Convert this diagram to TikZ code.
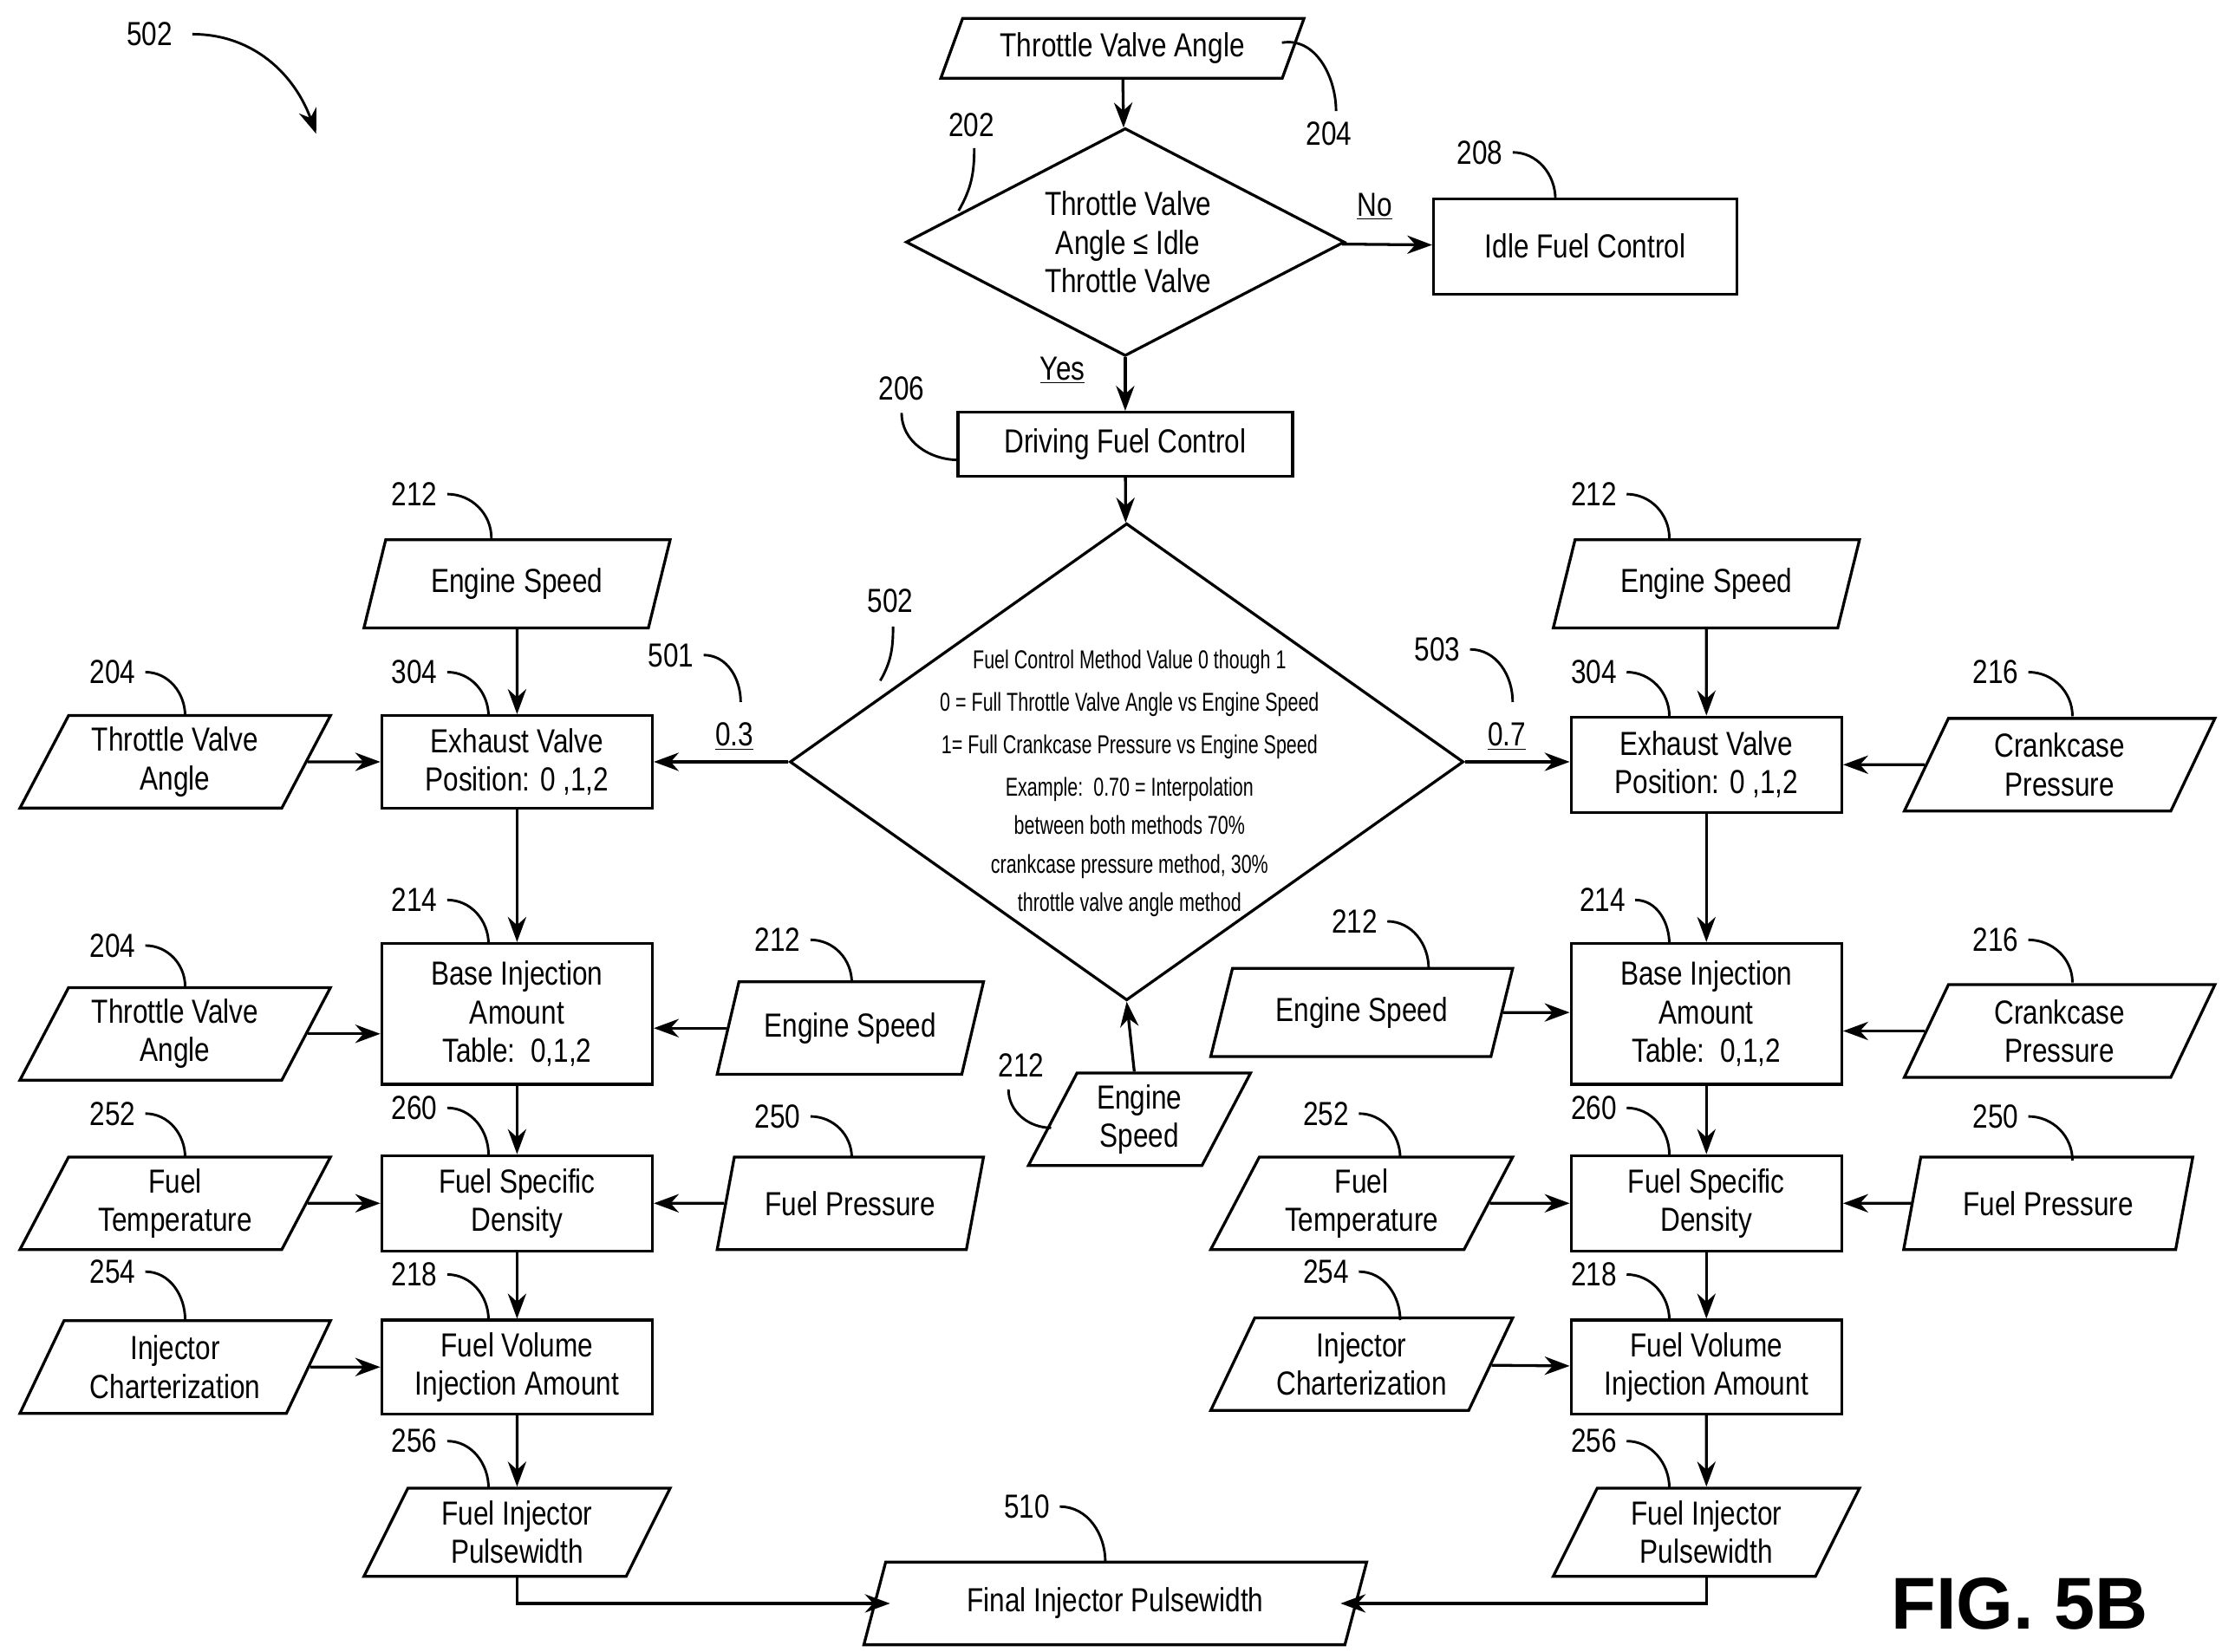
\documentclass[tikz,border=0pt]{standalone}
\usepackage{fontspec}
\setmainfont{Liberation Sans}[FakeStretch=0.82]
\usetikzlibrary{shapes.geometric,arrows.meta}
\begin{document}
\begin{tikzpicture}[x=0.03cm,y=-0.03cm,line width=1.7pt,
  every node/.style={font=\fontsize{20}{23}\selectfont,align=center},
  box/.style={draw,rectangle,inner sep=0pt},
  para/.style={draw,trapezium,trapezium left angle=55,trapezium right angle=125,trapezium stretches body,inner sep=0pt},
  arr/.style={-{Stealth[length=15pt,width=11pt]}},
  lead/.style={line width=1.5pt}]
\useasboundingbox (0,0) rectangle (1560,1160);
\newcommand{\lb}[5]{\node[anchor=east] (#5) at (#1+22,#2) {#4}; \draw[lead] (#1+24,#2) to[out=0,in=90] #3;}
% top
\node[para,minimum width=255*0.03cm,minimum height=42*0.03cm] (tva) at (788,34) {Throttle Valve Angle};
\node[draw,diamond,minimum width=308*0.03cm,minimum height=160*0.03cm,inner sep=0pt] (d1) at (790,170) {};
\node (d1t) at (792,170) {Throttle Valve\\Angle ≤ Idle\\Throttle Valve};
\node[box,minimum width=213*0.03cm,minimum height=67*0.03cm] (idle) at (1113,173) {Idle Fuel Control};
\node[box,minimum width=235*0.03cm,minimum height=45*0.03cm] (drv) at (790,312) {Driving Fuel Control};
\node[draw,diamond,minimum width=473*0.03cm,minimum height=335*0.03cm,inner sep=0pt] (d2) at (791,535) {};
\node[font=\fontsize{15.5}{15}\selectfont\addfontfeature{FakeStretch=0.72}, align=center] (d2t) at (793,550) {Fuel Control Method Value 0 though 1\\[10.5pt]0 = Full Throttle Valve Angle vs Engine Speed\\[10.5pt]1= Full Crankcase Pressure vs Engine Speed\\[10.5pt]Example:\ \ 0.70 = Interpolation\\[8pt]between both methods 70\%\\[8pt]crankcase pressure method, 30\%\\[8pt]throttle valve angle method};
\draw[arr] (tva) -- (d1);
\draw[arr] (d1) -- (idle);
\node (no) at (965,145) {\underline{No}};
\draw[arr] (d1) -- (drv);
\node (yes) at (746,260) {\underline{Yes}};
\draw[arr] (drv) -- (d2);
\tikzset{pw/.style={para,minimum width=215*0.03cm,minimum height=62*0.03cm},
 pl/.style={para,minimum width=218*0.03cm,minimum height=65*0.03cm},
 pm/.style={para,minimum width=187*0.03cm,minimum height=65*0.03cm},
 bx/.style={box,minimum width=190*0.03cm,minimum height=#1*0.03cm}}
% left column
\node[pw] (es1) at (363,410) {Engine Speed};
\node[pl] (tva1) at (123,535) {Throttle Valve\\Angle};
\node[bx=65] (evp1) at (363,535) {Exhaust Valve\\Position: 0 ,1,2};
\node[bx=99] (bia1) at (363,712) {Base Injection\\Amount\\Table:\ \ 0,1,2};
\node[pl] (tva2) at (123,726) {Throttle Valve\\Angle};
\node[pm] (es2) at (597,722) {Engine Speed};
\node[bx=67] (fsd1) at (363,845) {Fuel Specific\\Density};
\node[pl] (ft1) at (123,845) {Fuel\\Temperature};
\node[pm] (fp1) at (597,845) {Fuel Pressure};
\node[para,minimum width=156*0.03cm,minimum height=65*0.03cm] (es3) at (800,786) {Engine\\Speed};
\node[bx=66] (fvi1) at (363,960) {Fuel Volume\\Injection Amount};
\node[pl] (ic1) at (123,960) {Injector\\Charterization};
\node[pw] (fip1) at (363,1076) {Fuel Injector\\Pulsewidth};
\node[para,minimum width=353*0.03cm,minimum height=58*0.03cm] (fin) at (783,1126) {Final Injector Pulsewidth};
% right column
\node[pw] (es4) at (1198,410) {Engine Speed};
\node[bx=67] (evp2) at (1198,537) {Exhaust Valve\\Position: 0 ,1,2};
\node[pl] (cp1) at (1446,537) {Crankcase\\Pressure};
\node[bx=99] (bia2) at (1198,712) {Base Injection\\Amount\\Table:\ \ 0,1,2};
\node[pm,minimum width=212*0.03cm,minimum height=62*0.03cm] (es5) at (956,711) {Engine Speed};
\node[pl] (cp2) at (1446,724) {Crankcase\\Pressure};
\node[bx=67] (fsd2) at (1198,845) {Fuel Specific\\Density};
\node[pl,minimum width=212*0.03cm] (ft2) at (956,845) {Fuel\\Temperature};
\node[pl,minimum width=203*0.03cm] (fp2) at (1438,845) {Fuel Pressure};
\node[bx=66] (fvi2) at (1198,960) {Fuel Volume\\Injection Amount};
\node[pl,minimum width=212*0.03cm] (ic2) at (956,958) {Injector\\Charterization};
\node[pw] (fip2) at (1198,1076) {Fuel Injector\\Pulsewidth};
\node[font=\fontsize{44}{44}\selectfont\bfseries\addfontfeature{FakeStretch=1}] (fig) at (1418,1126) {FIG. 5B};
% connectors left
\draw[arr] (es1) -- (evp1);
\draw[arr] (tva1) -- (evp1);
\draw[arr] (d2.west) -- (evp1.east) node[pos=0.4,above,yshift=3pt] (l03) {\underline{0.3}};
\draw[arr] (evp1) -- (bia1);
\draw[arr] (tva2.east) -- (tva2.east -| bia1.west);
\draw[arr] (es2.west) -- (es2.west -| bia1.east);
\draw[arr] (bia1) -- (fsd1);
\draw[arr] (ft1) -- (fsd1);
\draw[arr] (fp1) -- (fsd1);
\draw[arr] (es3) -- (d2.south);
\draw[arr] (fsd1) -- (fvi1);
\draw[arr] (ic1) -- (fvi1);
\draw[arr] (fvi1) -- (fip1);
\draw[arr] (fip1.south) |- ([xshift=10pt]fin.west);
% connectors right
\draw[arr] (es4) -- (evp2);
\draw[arr] (cp1) -- (evp2);
\draw[arr] (d2.east) -- (d2.east -| evp2.west) node[pos=0.4,above,yshift=3pt] (l07) {\underline{0.7}};
\draw[arr] (evp2) -- (bia2);
\draw[arr] (es5) -- (es5 -| bia2.west);
\draw[arr] (cp2.west) -- (cp2.west -| bia2.east);
\draw[arr] (bia2) -- (fsd2);
\draw[arr] (ft2) -- (fsd2);
\draw[arr] (fp2) -- (fsd2);
\draw[arr] (fsd2) -- (fvi2);
\draw[arr] (ic2) -- (fvi2);
\draw[arr] (fvi2) -- (fip2);
\draw[arr] (fip2.south) |- ([xshift=-10pt]fin.east);
% reference labels
\node (n502) at (105,24) {502};
\draw[lead,arr] (135,24) to[out=0,in=110] (222,94);
\node (n204t) at (933,94) {204};
\draw[lead] (900,30) to[out=10,in=90] (938,78);
\node (n202) at (682,88) {202};
\draw[lead] (684,104) to[out=-90,in=60] (673,148);
\lb{1038}{107}{(1092,140)}{208}{n208}
\node (n206) at (633,273) {206};
\draw[lead] (633,290) to[out=-90,in=180] (673,323);
\lb{290}{347}{(345,378)}{212}{a1}
\lb{78}{472}{(130,503)}{204}{a2}
\lb{290}{472}{(343,503)}{304}{a3}
\node (n502b) at (625,422) {502};
\draw[lead] (627,440) to[out=-90,in=60] (618,478);
\lb{470}{460}{(520,493)}{501}{a4}
\lb{290}{632}{(343,663)}{214}{a5}
\lb{78}{664}{(130,693)}{204}{a6}
\lb{545}{660}{(598,690)}{212}{a7}
\lb{78}{782}{(130,813)}{252}{a8}
\lb{290}{778}{(343,811)}{260}{a9}
\lb{545}{784}{(598,813)}{250}{a10}
\node (n212c) at (717,748) {212};
\draw[lead] (708,765) to[out=-90,in=180] (738,792);
\lb{78}{893}{(130,927)}{254}{a11}
\lb{290}{895}{(343,927)}{218}{a12}
\lb{290}{1012}{(343,1045)}{256}{a13}
\lb{720}{1058}{(776,1097)}{510}{a14}
\lb{1118}{347}{(1172,378)}{212}{b1}
\lb{1008}{456}{(1062,493)}{503}{b2}
\lb{1118}{472}{(1172,503)}{304}{b3}
\lb{1400}{472}{(1455,503)}{216}{b4}
\lb{950}{647}{(1003,680)}{212}{b5}
\lb{1124}{632}{(1172,663)}{214}{b6}
\lb{1400}{660}{(1455,690)}{216}{b7}
\lb{930}{782}{(983,813)}{252}{b8}
\lb{1118}{778}{(1172,811)}{260}{b9}
\lb{1400}{784}{(1455,815)}{250}{b10}
\lb{930}{893}{(983,927)}{254}{b11}
\lb{1118}{895}{(1172,927)}{218}{b12}
\lb{1118}{1012}{(1172,1045)}{256}{b13}
\end{tikzpicture}
\end{document}
